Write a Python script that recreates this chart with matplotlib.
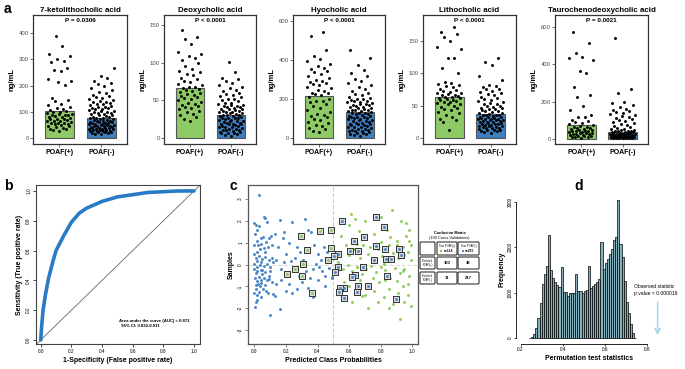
import numpy as np
import matplotlib
matplotlib.use('Agg')
import matplotlib.pyplot as plt
from matplotlib.patches import FancyBboxPatch

plt.rcParams['font.family'] = ['Liberation Sans', 'DejaVu Sans']

# ---------------- data ----------------
# panel a: bile acids, POAF(+) vs POAF(-)
acid_names = ['7-ketolithocholic acid', 'Deoxycholic acid', 'Hyocholic acid',
              'Lithocholic acid', 'Taurochenodeoxycholic acid']
p_labels = ['P = 0.0306', 'P < 0.0001', 'P < 0.0001', 'P < 0.0001', 'P = 0.0021']
bar_pos = [105, 66, 213, 64, 75]
bar_neg = [78, 30, 135, 37, 38]
group_labels = ['POAF(+)', 'POAF(-)']
y_ticks_a = [[0, 100, 200, 300, 400], [0, 50, 100, 150], [0, 200, 400, 600],
             [0, 50, 100, 150], [0, 200, 400, 600]]
y_lims_a = [(-23, 470), (-8, 163), (-31, 631), (-9.4, 190), (-27, 664)]

pts_pos_1 = [390, 352, 321, 314, 303, 296, 291, 268, 261, 256, 226, 219, 213, 204, 153, 147, 141,
             131, 126, 119, 116, 112, 107, 103, 101, 98, 95, 93, 90, 87, 86, 83, 81, 79, 77, 74,
             72, 71, 68, 66, 63, 61, 59, 57, 54, 52, 49, 47, 45, 42, 39, 36, 33, 29, 26, 88, 64, 58]
pts_neg_1 = [268, 236, 229, 216, 211, 205, 199, 191, 183, 177, 171, 166, 161, 157, 152, 149, 146,
             143, 139, 136, 133, 131, 128, 125, 123, 120, 118, 116, 113, 111, 109, 107, 104, 102,
             100, 98, 96, 94, 92, 90, 88, 86, 84, 82, 80, 78, 77, 75, 73, 71, 70, 68, 66, 65, 63,
             61, 60, 58, 56, 55, 53, 52, 50, 49, 47, 46, 44, 43, 41, 40, 38, 37, 35, 34, 32, 31,
             29, 28, 26, 25, 23, 22, 20, 18, 16, 14, 57, 48, 39, 33, 27, 62, 45, 36, 24]
pts_pos_2 = [143, 134, 131, 125, 114, 111, 109, 106, 103, 100, 96, 92, 89, 87, 85, 83, 80, 78, 76,
             74, 72, 70, 68, 66, 65, 63, 62, 60, 58, 57, 55, 53, 52, 50, 48, 47, 45, 43, 41, 40,
             38, 36, 34, 32, 30, 28, 25, 23, 61, 54, 44, 67]
pts_neg_2 = [101, 87, 80, 78, 76, 73, 70, 68, 66, 64, 62, 60, 58, 57, 55, 54, 52, 51, 50, 49, 47,
             46, 45, 44, 43, 42, 41, 40, 39, 38, 37, 36, 35, 34, 33, 32, 31, 30, 29, 28, 27, 26,
             25, 24, 23, 22, 21, 20, 19, 18, 17, 16, 15, 14, 13, 12, 11, 10, 9, 8, 7, 6, 5, 4, 3,
             44, 38, 33, 27, 22, 18, 14, 11, 8, 6, 36, 31, 26, 20, 16, 12, 29, 24, 19, 35, 41]
pts_pos_3 = [545, 525, 450, 420, 405, 395, 380, 370, 360, 352, 345, 338, 330, 320, 310, 300, 292,
             285, 278, 270, 262, 255, 248, 240, 232, 225, 218, 210, 200, 192, 185, 175, 165, 155,
             145, 135, 125, 115, 105, 98, 90, 82, 75, 68, 60, 52, 45, 38, 30, 280, 230, 190, 120]
pts_neg_3 = [450, 410, 375, 350, 335, 320, 305, 290, 280, 270, 260, 250, 240, 232, 225, 218, 212,
             206, 200, 195, 190, 185, 180, 175, 170, 165, 160, 155, 150, 146, 142, 138, 134, 130,
             126, 122, 118, 114, 110, 106, 102, 98, 94, 90, 86, 82, 78, 74, 70, 66, 62, 58, 54,
             50, 46, 42, 38, 34, 30, 26, 22, 18, 14, 10, 190, 175, 160, 145, 130, 115, 100, 85,
             70, 55, 40, 25, 200, 168, 152, 123, 96, 64, 35, 182, 137, 108, 76, 48]
pts_pos_4 = [171, 164, 160, 156, 150, 140, 138, 124, 123, 108, 101, 87, 85, 84, 82, 80, 78, 76,
             74, 72, 71, 70, 68, 67, 66, 65, 64, 62, 61, 60, 58, 57, 56, 54, 53, 52, 50, 48, 47,
             45, 43, 40, 38, 35, 32, 30, 28, 24, 13, 63, 59, 55, 69]
pts_neg_4 = [124, 118, 113, 96, 90, 82, 80, 78, 76, 75, 73, 71, 70, 68, 66, 64, 62, 60, 58, 57,
             55, 54, 52, 50, 49, 47, 46, 44, 43, 42, 40, 39, 38, 37, 36, 35, 34, 33, 32, 31, 30,
             29, 28, 27, 26, 25, 24, 23, 22, 21, 20, 19, 18, 17, 16, 15, 14, 13, 12, 11, 10, 9,
             8, 45, 41, 36, 33, 30, 27, 24, 21, 18, 15, 12, 52, 48, 29, 26, 23, 20, 17, 31, 35]
pts_pos_5 = [572, 513, 462, 438, 435, 422, 365, 355, 276, 235, 225, 178, 155, 130, 120, 115, 100,
             95, 90, 85, 80, 75, 70, 65, 60, 58, 55, 52, 50, 48, 45, 42, 40, 38, 35, 32, 30, 28,
             25, 22, 20, 18, 15, 12, 10, 8, 5, 62, 44, 33, 26, 17]
pts_neg_5 = [540, 270, 248, 198, 190, 180, 170, 160, 155, 150, 145, 140, 135, 128, 122, 118, 112,
             105, 100, 95, 90, 85, 80, 75, 70, 65, 60, 55, 52, 50, 48, 45, 42, 40, 38, 35, 32, 30,
             28, 26, 24, 22, 20, 18, 16, 15, 14, 13, 12, 11, 10, 9, 8, 7, 6, 5, 4, 3, 44, 36, 29,
             25, 21, 17, 14, 11, 8, 6, 33, 27, 19, 13, 9, 5, 31, 23]
pts_pos = [pts_pos_1, pts_pos_2, pts_pos_3, pts_pos_4, pts_pos_5]
pts_neg = [pts_neg_1, pts_neg_2, pts_neg_3, pts_neg_4, pts_neg_5]

# panel b: ROC curve
roc_fpr = [0.0, 0.005, 0.015, 0.03, 0.05, 0.08, 0.1, 0.15, 0.2, 0.25, 0.3, 0.4, 0.5, 0.6, 0.7,
           0.8, 0.9, 1.0]
roc_tpr = [0.0, 0.08, 0.2, 0.3, 0.41, 0.53, 0.6, 0.7, 0.79, 0.85, 0.885, 0.93, 0.96, 0.975,
           0.99, 0.995, 1.0, 1.0]
auc_text = 'Area under the curve (AUC) = 0.872\n  95% CI: 0.832-0.911'

# panel c: predicted class probabilities (x) vs jittered samples (y)
neg_pts = [(0.03, 3.2), (0.005, -1.95), (0.01, -1.7), (0.02, -1.6), (0.1, -2.3), (0.16, -2.05),
           (0.0, 1.9), (0.01, 1.8), (0.02, 1.6), (0.03, 1.75), (0.04, 1.2), (0.06, 2.2),
           (0.07, 2.15), (0.08, 1.95), (0.005, 1.4), (0.015, 1.1), (0.025, 0.9), (0.035, 0.7),
           (0.045, 0.95), (0.055, 1.25), (0.065, 0.6), (0.075, 1.05), (0.085, 0.8), (0.095, 1.2),
           (0.105, 1.3), (0.115, 0.9), (0.0, 0.5), (0.01, 0.3), (0.02, 0.15), (0.03, 0.4),
           (0.04, 0.1), (0.05, 0.25), (0.06, -0.05), (0.07, 0.35), (0.08, 0.05), (0.09, 0.2),
           (0.1, -0.1), (0.11, 0.3), (0.12, 0.1), (0.0, -0.2), (0.01, -0.4), (0.02, -0.3),
           (0.03, -0.55), (0.04, -0.25), (0.05, -0.45), (0.06, -0.6), (0.07, -0.35), (0.08, -0.7),
           (0.09, -0.5), (0.1, -0.3), (0.11, -0.8), (0.005, -0.6), (0.015, -0.75), (0.025, -0.9),
           (0.035, -1.0), (0.045, -0.85), (0.055, -1.1), (0.065, -0.95), (0.075, -1.2),
           (0.085, -1.3), (0.095, -0.65), (0.0, -1.3), (0.01, -1.1), (0.02, -1.4), (0.03, -1.25),
           (0.045, -1.5), (0.12, -1.35), (0.13, -1.45), (0.0, 0.05), (0.015, -0.1), (0.035, 0.0),
           (0.05, -0.25), (0.0, 0.9), (0.02, 0.6), (0.06, 0.75), (0.01, -0.95), (0.04, -0.7),
           (0.13, 1.4), (0.15, 0.8), (0.16, 2.05), (0.18, 1.2), (0.19, 1.5), (0.2, 0.5),
           (0.22, 1.0), (0.24, 1.95), (0.26, 0.3), (0.27, 0.8), (0.29, 0.6), (0.32, 2.1),
           (0.34, 1.6), (0.36, 1.5), (0.38, 0.9), (0.4, 0.5), (0.42, 0.2), (0.44, 0.8),
           (0.46, 0.6), (0.48, 0.1), (0.14, 0.2), (0.17, -0.2), (0.19, 0.1), (0.21, -0.4),
           (0.23, 0.15), (0.25, -0.1), (0.28, -0.5), (0.31, 0.2), (0.33, -0.3), (0.35, -0.6),
           (0.37, -0.2), (0.39, 0.05), (0.41, -0.1), (0.43, -0.3), (0.45, -0.5), (0.47, -0.15),
           (0.49, -0.55), (0.14, -0.9), (0.17, -0.7), (0.2, -1.2), (0.22, -0.9), (0.24, -1.3),
           (0.27, -1.1), (0.3, -0.8), (0.34, -1.05), (0.37, -1.5), (0.38, -1.2), (0.4, -0.7),
           (0.45, -1.0), (0.49, -0.6)]
pos_pts = [(0.61, 2.3), (0.64, 2.1), (0.66, 1.55), (0.7, 1.2), (0.73, 0.8), (0.76, 1.4),
           (0.8, 1.05), (0.84, 1.6), (0.87, 2.5), (0.9, 1.1), (0.93, 2.0), (0.96, 1.9),
           (0.98, 1.1), (0.55, 1.3), (0.58, 0.9), (0.6, 0.45), (0.63, 0.7), (0.67, 0.3),
           (0.69, 0.9), (0.72, 0.5), (0.75, 0.2), (0.78, 0.7), (0.81, 0.4), (0.85, 0.9),
           (0.88, 0.55), (0.91, 0.3), (0.94, 0.8), (0.97, 0.6), (0.99, 0.2), (0.53, 0.1),
           (0.56, -0.2), (0.59, 0.0), (0.62, -0.3), (0.65, -0.1), (0.68, -0.45), (0.71, -0.2),
           (0.74, -0.05), (0.77, -0.35), (0.8, -0.1), (0.83, -0.25), (0.86, -0.6), (0.89, -0.15),
           (0.92, -0.4), (0.95, -0.2), (0.98, -0.5), (0.57, -0.8), (0.6, -1.0), (0.64, -1.2),
           (0.67, -0.7), (0.7, -1.4), (0.73, -0.9), (0.76, -1.2), (0.79, -0.8), (0.82, -1.5),
           (0.85, -1.1), (0.88, -1.8), (0.91, -1.3), (0.94, -1.0), (0.97, -1.4), (0.72, -2.0),
           (0.78, -1.7), (0.85, -2.0), (0.92, -2.5), (0.95, -1.7), (0.99, -1.9), (0.62, -1.7),
           (0.68, -1.45), (0.83, -0.7), (0.9, 0.9), (0.96, 1.3), (0.92, 0.7), (0.97, -0.9),
           (0.99, 0.9), (0.94, -0.3), (0.6, 1.8), (0.7, 2.0), (0.8, 2.2), (0.86, 1.25),
           (0.95, 0.45), (0.9, -0.75), (0.75, -0.6), (0.65, 0.95), (0.82, 0.05), (0.98, 1.6)]
# misclassified samples (drawn boxed)
pos_wrong = [(0.295, 1.30), (0.331, 0.66), (0.414, 1.53), (0.485, 1.57), (0.485, 0.76),
             (0.464, 0.23), (0.308, 0.02), (0.255, -0.2), (0.209, -0.43), (0.304, -0.50),
             (0.367, -1.31)]
neg_wrong = [(0.553, 2.02), (0.768, 2.18), (0.819, 1.71), (0.631, 1.07), (0.696, 1.25),
             (0.768, 0.87), (0.827, 0.70), (0.916, 0.70), (0.928, 0.46), (0.605, 0.61),
             (0.658, 0.61), (0.532, 0.50), (0.502, 0.38), (0.757, 0.20), (0.835, 0.26),
             (0.865, 0.26), (0.686, -0.12), (0.530, -0.12), (0.511, -0.35), (0.637, -0.46),
             (0.618, -0.58), (0.840, -0.53), (0.658, -0.99), (0.722, -0.99), (0.568, -1.05),
             (0.544, -1.08), (0.538, -1.27), (0.648, -1.24), (0.565, -1.54), (0.897, -1.57)]
cm_cols = ['True POAF(+)', 'True POAF(-)']
cm_n = ['n=114', 'n=255']
cm_rows = ['Predicted\nPOAF(+)', 'Predicted\nPOAF(-)']
cm_vals = [[103, 38], [11, 217]]

# panel d: permutation test histogram (bin width 0.01 from 0.24)
perm_counts = [8, 15, 90, 230, 440, 770, 1200, 1420, 1580, 2270, 1500, 1320, 1240, 1170, 1130,
               1560, 1015, 1010, 930, 985, 990, 1000, 1420, 1040, 1030, 990, 1045, 1050, 1590,
               1110, 1140, 1180, 1230, 1290, 2120, 1530, 1650, 1740, 1850, 1970, 2170, 2230,
               3040, 2080, 1790, 1250, 800, 540, 300, 110, 10]
observed_stat = 0.852

# ---------------- layout ----------------
W, H = 685, 369
fig = plt.figure(figsize=(6.85, 3.69), dpi=100)


def box(l, t, r, b):
    return [l / W, 1 - b / H, (r - l) / W, (b - t) / H]


def vdc(i):
    # van der Corput radical inverse, used to spread jittered points evenly
    v, denom = 0.0, 1.0
    while i:
        denom *= 2
        i, rem = divmod(i, 2)
        v += rem / denom
    return v


ov = fig.add_axes([0, 0, 1, 1])
ov.set_xlim(0, W)
ov.set_ylim(H, 0)
ov.axis('off')

green = '#8DC965'
blue = '#3F7FBF'

# ---- panel a ----
a_boxes = [(33, 15, 127, 144), (164, 15, 256, 144), (293, 15, 385, 144),
           (423, 15, 516, 144), (555, 15, 648, 144)]
for i in range(5):
    ax = fig.add_axes(box(*a_boxes[i]))
    ax.bar([1, 2], [bar_pos[i], bar_neg[i]], width=0.7, color=[green, blue],
           edgecolor='#555555', linewidth=0.8, zorder=2)
    for k, vals in enumerate([pts_pos[i], pts_neg[i]]):
        vals = np.sort(vals)
        jit = (np.array([vdc(j + 1) for j in range(len(vals))]) - 0.5) * 0.62
        ax.scatter(k + 1 + jit, vals, s=4.5, color='black', linewidths=0, zorder=3)
    ax.set_xlim(0.37, 2.61)
    ax.set_ylim(*y_lims_a[i])
    ax.set_yticks(y_ticks_a[i])
    ax.set_xticks([1, 2])
    ax.set_xticklabels(group_labels, fontsize=5, fontweight='bold')
    ax.tick_params(axis='y', labelsize=4.3, labelcolor='#4D4D4D', length=2, width=0.5,
                   pad=1, color='#333333')
    ax.tick_params(axis='x', length=2, width=0.5, pad=1.5, color='#333333')
    for s in ax.spines.values():
        s.set_color('#333333')
        s.set_linewidth(0.9)
    ax.set_title(acid_names[i], fontsize=5.7, fontweight='bold', pad=2.5)
    ax.text(0.5, 0.955, p_labels[i], transform=ax.transAxes, ha='center', va='center',
            fontsize=4.6, fontweight='bold')
    ax.set_ylabel('ng/mL', fontsize=5.5, fontweight='bold', labelpad=2)

# ---- panel b ----
axb = fig.add_axes(box(36, 185, 200, 344))
axb.axline((0, 0), (1, 1), color='#666666', lw=0.6)
axb.plot(roc_fpr, roc_tpr, color='#2A7BC6', lw=2.6, solid_capstyle='round', zorder=3)
axb.set_xlim(-0.031, 1.039)
axb.set_ylim(-0.027, 1.04)
ticks = [0.0, 0.2, 0.4, 0.6, 0.8, 1.0]
axb.set_xticks(ticks)
axb.set_xticklabels([f'{t:.1f}' for t in ticks])
axb.set_yticks(ticks)
axb.set_yticklabels([f'{t:.1f}' for t in ticks], rotation=90, va='center')
axb.tick_params(labelsize=3.4, length=2, width=0.5, pad=1.5)
for s in axb.spines.values():
    s.set_linewidth(0.8)
    s.set_color('#444444')
axb.text(0.51, 0.11, auc_text, fontsize=3.1, fontweight='bold', va='center', linespacing=1.3)
axb.set_xlabel('1-Specificity (False positive rate)', fontsize=5, fontweight='bold', labelpad=2.5)
axb.set_ylabel('Sensitivity (True positive rate)', fontsize=5, fontweight='bold', labelpad=2.5)

# ---- panel c ----
axc = fig.add_axes(box(248, 185, 418, 344))
c_blue = '#4A88C7'
c_green = '#8CCB5E'
axc.axvline(0.5, color='#CCCCCC', lw=0.8, ls='--', zorder=1)
axc.axhline(0, color='#DDDDDD', lw=0.8, ls='--', zorder=1)
nx, ny = zip(*neg_pts)
px, py = zip(*pos_pts)
axc.scatter(nx, ny, s=4.5, color=c_blue, linewidths=0, zorder=2)
axc.scatter(px, py, s=4.5, color=c_green, linewidths=0, zorder=2)
wx_p, wy_p = zip(*pos_wrong)
wx_n, wy_n = zip(*neg_wrong)
axc.scatter(wx_p + wx_n, wy_p + wy_n, s=16, marker='s', facecolor='#DADADA',
            edgecolor='#333333', linewidths=0.7, zorder=3)
axc.scatter(wx_p, wy_p, s=4.5, color=c_green, linewidths=0, zorder=4)
axc.scatter(wx_n, wy_n, s=4.5, color=c_blue, linewidths=0, zorder=4)
axc.set_xlim(-0.04, 1.036)
axc.set_ylim(-3.64, 3.65)
axc.set_xticks(ticks)
axc.set_xticklabels([f'{t:.1f}' for t in ticks])
axc.set_yticks([-3, -2, -1, 0, 1, 2, 3])
axc.set_yticklabels(['-3', '-2', '-1', '0', '1', '2', '3'], rotation=90, va='center')
axc.tick_params(labelsize=3.4, length=2, width=0.5, pad=1.5, color='#555555')
for s in axc.spines.values():
    s.set_linewidth(0.9)
    s.set_color('#555555')
axc.set_xlabel('Predicted Class Probabilities', fontsize=5, fontweight='bold', labelpad=2.5)
axc.set_ylabel('Samples', fontsize=5, fontweight='bold', labelpad=2.5)

# confusion matrix table (figure pixel coordinates)
col_x = [(420, 435), (437, 457), (458, 479)]
row_y = [(242, 255), (257, 269), (272, 284)]
ov.text(449.5, 233, 'Confusion Matrix', ha='center', va='center', fontsize=2.8, fontweight='bold')
ov.text(449.5, 237.5, '(100 Cross-Validations)', ha='center', va='center', fontsize=2.8)
for r in range(3):
    for c in range(3):
        x0, x1 = col_x[c]
        y0, y1 = row_y[r]
        ov.add_patch(FancyBboxPatch((x0, y0), x1 - x0, y1 - y0,
                                    boxstyle='round,pad=0,rounding_size=1',
                                    facecolor='white', edgecolor='#333333', lw=0.8))
        cx, cy = (x0 + x1) / 2, (y0 + y1) / 2
        if r == 0 and c > 0:
            ov.text(cx, cy - 2.3, cm_cols[c - 1], ha='center', va='center', fontsize=1.9)
            ov.scatter(cx - 5.5, cy + 2.3, s=1.5, marker='s',
                       color=[c_green, c_blue][c - 1], linewidths=0)
            ov.text(cx + 1, cy + 2.3, cm_n[c - 1], ha='center', va='center', fontsize=2.3,
                    fontweight='bold')
        elif r > 0 and c == 0:
            ov.text(cx, cy, cm_rows[r - 1], ha='center', va='center', fontsize=1.9,
                    linespacing=1.1)
        elif r > 0:
            ov.text(cx, cy, str(cm_vals[r - 1][c - 1]), ha='center', va='center', fontsize=3,
                    fontweight='bold')

# ---- panel d ----
axd = fig.add_axes(box(516, 194.5, 662.7, 343.5))
edges = 0.24 + 0.01 * np.arange(len(perm_counts) + 1)
axd.bar(edges[:-1], perm_counts, width=0.01, align='edge', color='#86B1BC',
        edgecolor='black', linewidth=0.5)
axd.set_xlim(0.178, 0.876)
axd.set_ylim(-121.6, 3161.6)
for s in ['top', 'right']:
    axd.spines[s].set_visible(False)
axd.spines['left'].set_bounds(0, 3000)
axd.spines['bottom'].set_bounds(0.2, 0.8)
for s in ['left', 'bottom']:
    axd.spines[s].set_linewidth(0.6)
axd.set_xticks([0.2, 0.4, 0.6, 0.8])
axd.set_xticklabels(['0.2', '0.4', '0.6', '0.8'])
axd.set_yticks([0, 1000, 2000, 3000])
axd.set_yticklabels(['0', '1000', '2000', '3000'], rotation=90, va='center')
axd.tick_params(labelsize=3.4, length=1.5, width=0.5, pad=1)
axd.set_xlabel('Permutation test statistics', fontsize=5, fontweight='bold', labelpad=2.5)
axd.set_ylabel('Frequency', fontsize=5, fontweight='bold', labelpad=1.5)
axd.annotate('', xy=(observed_stat, 0), xytext=(observed_stat, 850),
             arrowprops=dict(arrowstyle='->', color='#A6D8EC', lw=1.2, mutation_scale=9),
             annotation_clip=False)
axd.text(0.74, 1130, 'Observed statistic', fontsize=3.6, va='center')
axd.text(0.74, 990, 'p value < 0.000016', fontsize=3.6, va='center')

# panel letters
for lab, (x, y) in zip('abcd', [(4, 9), (4, 186), (230, 186), (574, 186)]):
    ov.text(x, y, lab, fontsize=10, fontweight='bold', va='center', ha='left')

fig.savefig('out.png', dpi=100)
